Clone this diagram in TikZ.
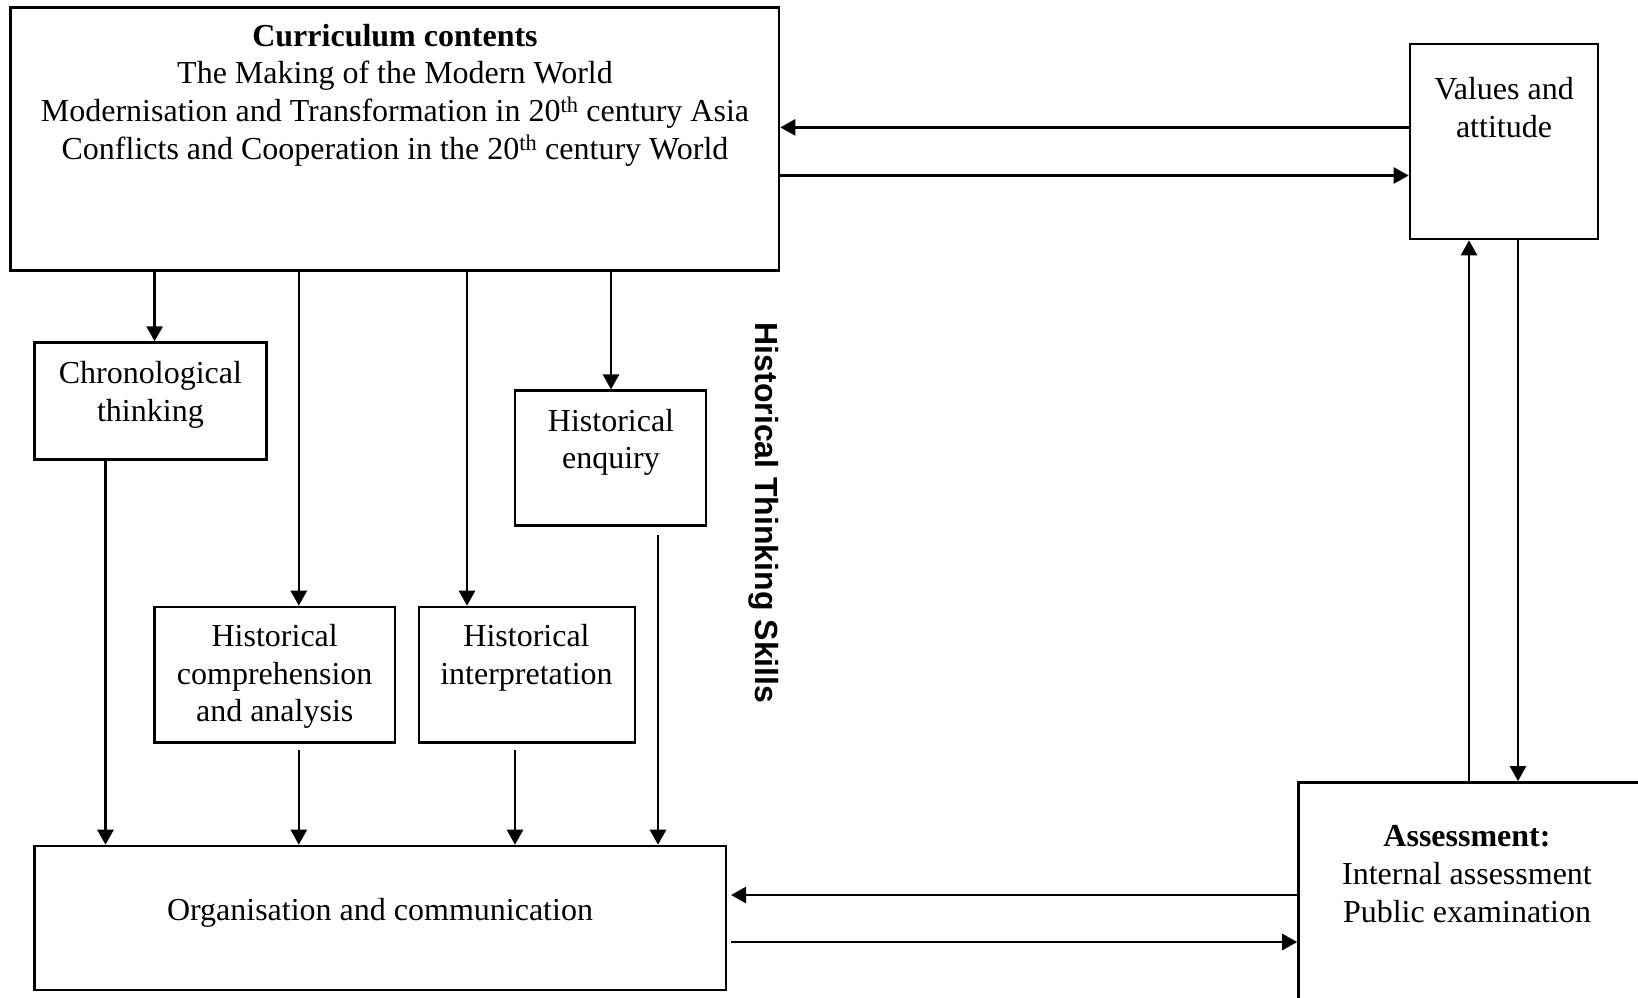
\documentclass[tikz,border=0pt]{standalone}
\usepackage{fontspec}
\setmainfont{Liberation Serif}
\newfontfamily\hsans{Liberation Sans}
\usetikzlibrary{arrows.meta,calc}
\begin{document}
\begin{tikzpicture}[x=1pt,y=-1pt,
  box/.style={draw,line width=2.6pt,inner sep=0pt},
  lbl/.style={font=\fontsize{32}{37.6}\selectfont,align=center,inner sep=0pt},
  arr/.style={line width=2.6pt,-{Triangle[length=15pt,width=16pt]}}]
\useasboundingbox (0,0) rectangle (1638,997);
\clip (0,0) rectangle (1638,997);
% boxes
\node[box,minimum width=768.6pt,minimum height=263.3pt] (top) at (394.7,138.95) {};
\node[box,minimum width=188pt,minimum height=195pt] (val) at (1504,141.5) {};
\node[box,minimum width=231.9pt,minimum height=117pt] (chrono) at (150.45,401.1) {};
\node[box,minimum width=191pt,minimum height=134.7pt] (enq) at (610.5,458.05) {};
\node[box,minimum width=240.4pt,minimum height=135.7pt] (comp) at (274.8,674.85) {};
\node[box,minimum width=216pt,minimum height=135.7pt] (interp) at (527,674.85) {};
\node[box,minimum width=691.5pt,minimum height=144pt] (org) at (380.25,918) {};
\node[box,minimum width=361.5pt,minimum height=237.6pt] (ass) at (1479.25,901.2) {};
% texts
\node[lbl] (ttop) at (395,95) {\textbf{Curriculum contents}\\The Making of the Modern World\\Modernisation and Transformation in 20\textsuperscript{th} century Asia\\Conflicts and Cooperation in the 20\textsuperscript{th} century World};
\node[lbl] (tval) at (1504,107.7) {Values and\\attitude};
\node[lbl] (tchrono) at (150.4,394.7) {Chronological\\thinking};
\node[lbl] (tenq) at (611,442.5) {Historical\\enquiry};
\node[lbl] (tcomp) at (274.7,676.5) {Historical\\comprehension\\and analysis};
\node[lbl] (tinterp) at (526.5,658) {Historical\\interpretation};
\node[lbl] (torg) at (380,913) {Organisation and communication};
\node[lbl] (tass) at (1467,874) {\textbf{Assessment:}\\Internal assessment\\Public examination};
\node[font=\hsans\bfseries\fontsize{32}{36}\selectfont,rotate=-90,inner sep=0pt] (hts) at (763.6,513) {Historical Thinking Skills};
% helper coordinates
\coordinate (xa) at (154.6,0);
\coordinate (xb) at (298.8,0);
\coordinate (xc) at (467,0);
\coordinate (xd) at (611,0);
\coordinate (xe) at (105.5,0);
\coordinate (xf) at (515,0);
\coordinate (xg) at (658,0);
\coordinate (ya) at (0,127.4);
\coordinate (yb) at (0,175.5);
\coordinate (yc) at (0,895);
\coordinate (yd) at (0,942);
\coordinate (xh) at (1469,0);
\coordinate (xi) at (1518,0);
\coordinate (orgr) at (731,0);
\coordinate (yl) at (0,750);
\coordinate (ym) at (0,535);
% connectors top box
\draw[arr] (val.west |- ya) -- (top.east |- ya);
\draw[arr] (top.east |- yb) -- (val.west |- yb);
\draw[arr] (top.south -| xa) -- (chrono.north -| xa);
\draw[arr] (top.south -| xb) -- (comp.north -| xb);
\draw[arr] (top.south -| xc) -- (interp.north -| xc);
\draw[arr] (top.south -| xd) -- (enq.north -| xd);
% into organisation
\draw[arr] (chrono.south -| xe) -- (org.north -| xe);
\draw[arr] (xb |- yl) -- (org.north -| xb);
\draw[arr] (xf |- yl) -- (org.north -| xf);
\draw[arr] (xg |- ym) -- (org.north -| xg);
% organisation / assessment
\draw[arr] (ass.west |- yc) -- (orgr |- yc);
\draw[arr] (orgr |- yd) -- (ass.west |- yd);
% values / assessment
\draw[arr] (ass.north -| xh) -- (val.south -| xh);
\draw[arr] (val.south -| xi) -- (ass.north -| xi);
\end{tikzpicture}
\end{document}
